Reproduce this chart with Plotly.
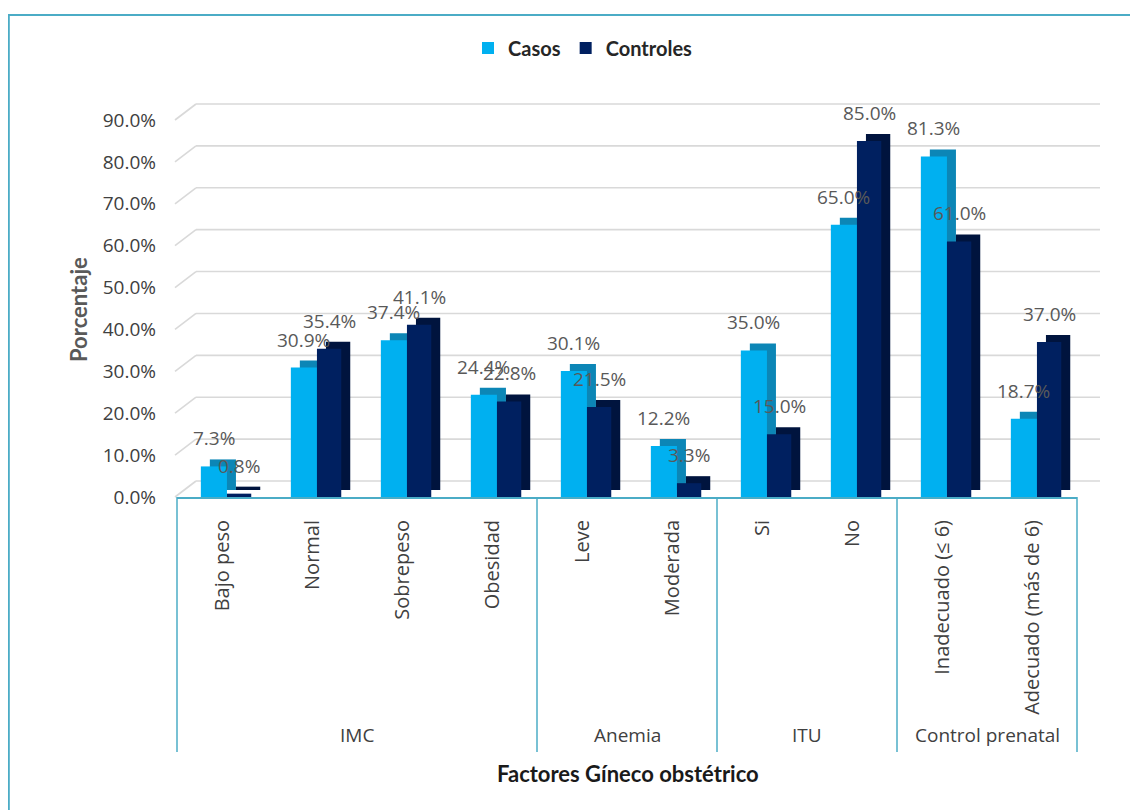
import plotly.graph_objects as go

# ---------------- data ----------------
groups = ["IMC", "IMC", "IMC", "IMC", "Anemia", "Anemia", "ITU", "ITU",
          "Control prenatal", "Control prenatal"]
categories = ["Bajo peso", "Normal", "Sobrepeso", "Obesidad", "Leve", "Moderada",
              "Si", "No", "Inadecuado (≤ 6)", "Adecuado (más de 6)"]
casos = [0.073, 0.309, 0.374, 0.244, 0.301, 0.122, 0.350, 0.650, 0.813, 0.187]
controles = [0.008, 0.354, 0.411, 0.228, 0.215, 0.033, 0.150, 0.850, 0.610, 0.370]
y_ticks = [0.0, 0.1, 0.2, 0.3, 0.4, 0.5, 0.6, 0.7, 0.8, 0.9]

# ---------------- style ----------------
C_CASOS = "#00B0F0"
C_CASOS_SIDE = "#0C86B6"
C_CTRL = "#002060"
C_CTRL_SIDE = "#00143E"
TEAL = "#4BACC6"
GRID = "#D9D9D9"
TXT = "#404040"

# page body has an 8px margin, so layout is shifted by 8px
W, H = 1130, 802
ML, MR, MT, MB = 169, 61, 112, 313
PW = W - ML - MR
PH = H - MT - MB
BOTTOM = MT + PH      # pixel y of the value 0
N = len(categories)
YMAX = 0.9


def py(pix):
    """figure pixel y -> paper y"""
    return (BOTTOM - pix) / PH


def px(pix):
    """figure pixel x -> paper x"""
    return (pix - ML) / PW


DX = 0.10            # depth shift (x units)
DY = 7 / PH * YMAX   # depth shift (y units)
BW_CASOS, OFF_CASOS = 0.29, -0.235
BW_CTRL, OFF_CTRL = 0.27, 0.055

idx = list(range(N))
fig = go.Figure()

# 3D side faces (drawn behind front faces)
fig.add_trace(go.Bar(x=idx, y=casos, base=DY, offset=OFF_CASOS + DX, width=BW_CASOS,
                     marker=dict(color=C_CASOS_SIDE, line=dict(width=0)),
                     showlegend=False, hoverinfo="skip"))
fig.add_trace(go.Bar(x=idx, y=casos, offset=OFF_CASOS, width=BW_CASOS, name="Casos",
                     marker=dict(color=C_CASOS, line=dict(width=0))))
fig.add_trace(go.Bar(x=idx, y=controles, base=DY, offset=OFF_CTRL + DX, width=BW_CTRL,
                     marker=dict(color=C_CTRL_SIDE, line=dict(width=0)),
                     showlegend=False, hoverinfo="skip"))
fig.add_trace(go.Bar(x=idx, y=controles, offset=OFF_CTRL, width=BW_CTRL, name="Controles",
                     marker=dict(color=C_CTRL, line=dict(width=0))))

annotations = []
LBL_FONT = dict(family="Open Sans", size=19, color="#595959")
for i in idx:
    annotations.append(dict(x=i + OFF_CASOS + BW_CASOS / 2, y=casos[i], xref="x", yref="y",
                            text=f"{casos[i]*100:.1f}%", showarrow=False, yshift=28,
                            xanchor="center", yanchor="middle", font=LBL_FONT))
    annotations.append(dict(x=i + OFF_CTRL + BW_CTRL / 2, y=controles[i], xref="x", yref="y",
                            text=f"{controles[i]*100:.1f}%", showarrow=False, yshift=28,
                            xanchor="center", yanchor="middle", font=LBL_FONT))

# group labels and dividers
group_names = []
for g in groups:
    if g not in group_names:
        group_names.append(g)
bounds = [0]
for gname in group_names:
    members = [i for i, g in enumerate(groups) if g == gname]
    annotations.append(dict(x=sum(members) / len(members), y=py(727),
                            xref="x", yref="paper", text=gname, showarrow=False,
                            xanchor="center", yanchor="middle",
                            font=dict(family="Open Sans", size=19, color=TXT)))
    bounds.append(members[-1] + 1)

# axis titles
annotations.append(dict(x=px(620), y=py(765), xref="paper", yref="paper",
                        text="Factores Gíneco obstétrico", showarrow=False,
                        xanchor="center", yanchor="middle",
                        font=dict(family="Lato", size=22, color="#1a1a1a", weight="bold")))
annotations.append(dict(x=px(70), y=py(302), xref="paper", yref="paper",
                        text="Porcentaje", showarrow=False, textangle=-90,
                        xanchor="center", yanchor="middle",
                        font=dict(family="Lato", size=22, color="#595959", weight="bold")))

shapes = []
for b in bounds:
    shapes.append(dict(type="line", xref="x domain", yref="paper",
                       x0=b / N, x1=b / N, y0=0, y1=py(744),
                       line=dict(color=TEAL, width=1.5)))

# back-wall gridlines with 3D diagonals
BACK_DX = 19 / PW
BACK_DY = 16 / PH
for t in y_ticks:
    yp = t / YMAX
    shapes.append(dict(type="line", xref="paper", yref="paper", x0=BACK_DX, x1=px(1092),
                       y0=yp + BACK_DY, y1=yp + BACK_DY, layer="below",
                       line=dict(color=GRID, width=1.6)))
    shapes.append(dict(type="line", xref="paper", yref="paper", x0=-2 / PW, x1=BACK_DX,
                       y0=yp, y1=yp + BACK_DY, layer="below",
                       line=dict(color=GRID, width=1.6)))

# outer chart border
shapes.append(dict(type="rect", xref="paper", yref="paper",
                   x0=px(0.8), x1=px(W + 20), y0=py(H + 20), y1=py(7),
                   line=dict(color=TEAL, width=2), layer="below"))

fig.update_layout(
    width=W, height=H,
    margin=dict(l=ML, r=MR, t=MT, b=MB),
    paper_bgcolor="white", plot_bgcolor="white",
    barmode="overlay",
    font=dict(family="Open Sans", color=TXT),
    legend=dict(orientation="h", x=px(575), xanchor="center",
                y=py(40), yanchor="middle",
                font=dict(family="Lato", size=20, color="#262626", weight="bold"),
                traceorder="normal", itemwidth=30),
    xaxis=dict(range=[-0.5, N - 0.5], tickvals=idx, ticktext=categories, tickangle=-90,
               showgrid=False, zeroline=False, showline=True, linecolor=TEAL, linewidth=2,
               ticks="", ticklabelstandoff=13,
               tickfont=dict(family="Open Sans", size=20, color=TXT)),
    yaxis=dict(range=[0, YMAX], tickvals=y_ticks, tickformat=".1%", showgrid=False,
               zeroline=False, showline=False, ticks="", ticklabelstandoff=20,
               tickfont=dict(family="Open Sans", size=19, color=TXT)),
    annotations=annotations,
    shapes=shapes,
)

fig.write_html("out.html")
